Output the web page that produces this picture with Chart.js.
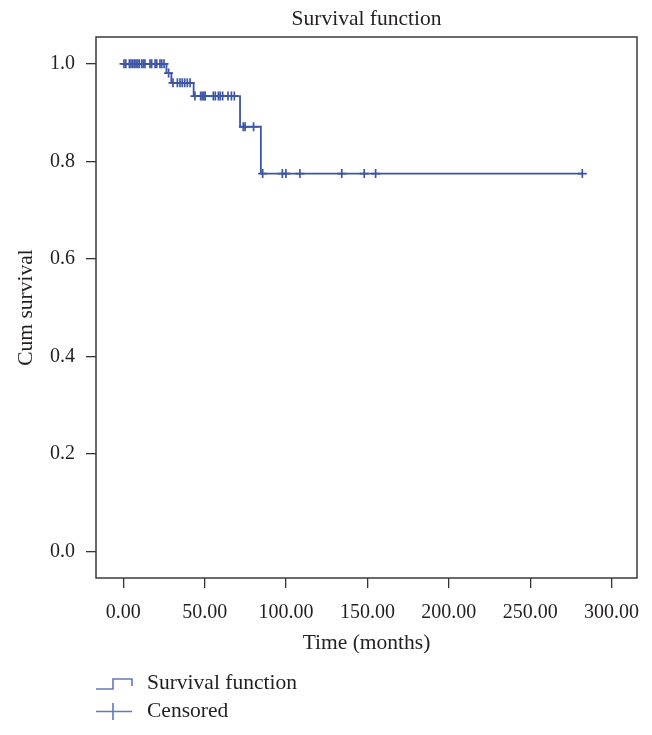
<!DOCTYPE html>
<html>
<head>
<meta charset="utf-8">
<script src="https://cdn.jsdelivr.net/npm/chart.js@4.4.1/dist/chart.umd.min.js"></script>
<style>
html, body { margin: 0; padding: 0; background: #fff; }
canvas { display: block; }
</style>
</head>
<body>
<canvas id="km" width="652" height="735"></canvas>
<script>
// Kaplan-Meier steps (time in months, cumulative survival)
var stepTimes = [0, 26.5, 29.5, 43.2, 71.7, 84.5, 282];
var stepSurv = [1.0, 0.981, 0.961, 0.934, 0.871, 0.775, 0.775];

// censored cases
var censorTimes = [0.4, 1.5, 3.7, 4.7, 5.8, 6.8, 7.8, 8.8, 9.8, 11.3, 12.3, 13.3, 16.4, 17.4, 19.5, 20.5, 22.5, 23.6, 25.0,
    27.8,
    30.5, 33.2, 34.8, 36.2, 37.7, 39.3, 41.0,
    44.0, 47.5, 48.5, 49.5, 50.3, 55.3, 56.5, 58.4, 59.5, 61.0, 64.3, 66.4, 68.2,
    73.7, 74.8, 80.0,
    85.6, 97.7, 99.9, 108.5, 134.2, 148.0, 155.0, 282.0];
var censorSurv = [1, 1, 1, 1, 1, 1, 1, 1, 1, 1, 1, 1, 1, 1, 1, 1, 1, 1, 1,
    0.981,
    0.961, 0.961, 0.961, 0.961, 0.961, 0.961, 0.961,
    0.934, 0.934, 0.934, 0.934, 0.934, 0.934, 0.934, 0.934, 0.934, 0.934, 0.934, 0.934, 0.934,
    0.871, 0.871, 0.871,
    0.775, 0.775, 0.775, 0.775, 0.775, 0.775, 0.775, 0.775];

var xTicks = [0, 50, 100, 150, 200, 250, 300];
var xTickLabels = ["0.00", "50.00", "100.00", "150.00", "200.00", "250.00", "300.00"];
var yTicks = [0, 0.2, 0.4, 0.6, 0.8, 1.0];
var yTickLabels = ["0.0", "0.2", "0.4", "0.6", "0.8", "1.0"];

var blue = "#3d55a6";
var legendBlue = "#6078bd";
var ink = "#231f20";
var serif = "'Liberation Serif', 'DejaVu Serif', serif";

var framePlugin = {
    id: "frame",
    afterDraw: function(chart) {
        var a = chart.chartArea, c = chart.ctx;
        c.save();
        c.strokeStyle = "#3a3a3a";
        c.lineWidth = 1.5;
        c.strokeRect(a.left, a.top, a.right - a.left, a.bottom - a.top);

        // legend below the axis title
        var lx = a.left, y1 = 683, y2 = 711.5;
        c.strokeStyle = legendBlue;
        c.lineWidth = 1.6;
        c.beginPath();
        c.moveTo(lx, y1 + 6);
        c.lineTo(lx + 17, y1 + 6);
        c.lineTo(lx + 17, y1 - 4);
        c.lineTo(lx + 36, y1 - 4);
        c.lineTo(lx + 36, y1 + 3);
        c.moveTo(lx, y2);
        c.lineTo(lx + 36, y2);
        c.moveTo(lx + 17, y2 - 8.5);
        c.lineTo(lx + 17, y2 + 8.5);
        c.stroke();
        c.fillStyle = ink;
        c.font = "21.5px " + serif;
        c.textBaseline = "middle";
        c.textAlign = "left";
        c.fillText("Survival function", lx + 51, y1);
        c.fillText("Censored", lx + 51, y2);
        c.restore();
    }
};

var stepPts = stepTimes.map(function(t, i) { return {x: t, y: stepSurv[i]}; });
var censorPts = censorTimes.map(function(t, i) { return {x: t, y: censorSurv[i]}; });

new Chart(document.getElementById("km"), {
    type: "scatter",
    data: {
        datasets: [{
            label: "Survival function",
            type: "line",
            data: stepPts,
            stepped: true,
            borderColor: blue,
            borderWidth: 1.8,
            pointRadius: 0,
            fill: false
        }, {
            label: "Censored",
            data: censorPts,
            pointStyle: "cross",
            pointRadius: 4.5,
            borderColor: blue,
            backgroundColor: blue,
            pointBorderWidth: 1.7
        }]
    },
    options: {
        responsive: false,
        animation: false,
        layout: {padding: {left: 0, right: 15, top: 0, bottom: 77}},
        plugins: {
            legend: {display: false},
            tooltip: {enabled: false},
            title: {
                display: true,
                text: "Survival function",
                fullSize: false,
                color: ink,
                font: {family: serif, size: 21.5, weight: "normal"},
                padding: {top: 6, bottom: 5.2}
            }
        },
        scales: {
            x: {
                type: "linear",
                min: -16.8,
                max: 315.6,
                afterBuildTicks: function(s) { s.ticks = xTicks.map(function(v) { return {value: v}; }); },
                afterFit: function(s) { s.height = 80; s.paddingLeft = 0; s.paddingRight = 0; },
                ticks: {
                    color: ink,
                    font: {family: serif, size: 20},
                    padding: 13,
                    maxRotation: 0,
                    callback: function(v) { return xTickLabels[xTicks.indexOf(v)]; }
                },
                grid: {drawOnChartArea: false, drawTicks: true, tickLength: 10, color: "#333", lineWidth: 1.3},
                border: {display: false},
                title: {
                    display: true,
                    text: "Time (months)",
                    color: ink,
                    font: {family: serif, size: 21.5},
                    padding: {top: 0, bottom: 2}
                }
            },
            y: {
                type: "linear",
                min: -0.054,
                max: 1.055,
                afterBuildTicks: function(s) { s.ticks = yTicks.map(function(v) { return {value: v}; }); },
                afterFit: function(s) { s.width = 96; s.paddingTop = 0; s.paddingBottom = 0; },
                ticks: {
                    color: ink,
                    font: {family: serif, size: 20},
                    padding: 11,
                    callback: function(v) { return yTickLabels[yTicks.indexOf(v)]; }
                },
                grid: {drawOnChartArea: false, drawTicks: true, tickLength: 10, color: "#333", lineWidth: 1.3},
                border: {display: false},
                title: {
                    display: true,
                    text: "Cum survival",
                    color: ink,
                    font: {family: serif, size: 21.5},
                    padding: {top: 13, bottom: 0}
                }
            }
        }
    },
    plugins: [framePlugin]
});
</script>
</body>
</html>
